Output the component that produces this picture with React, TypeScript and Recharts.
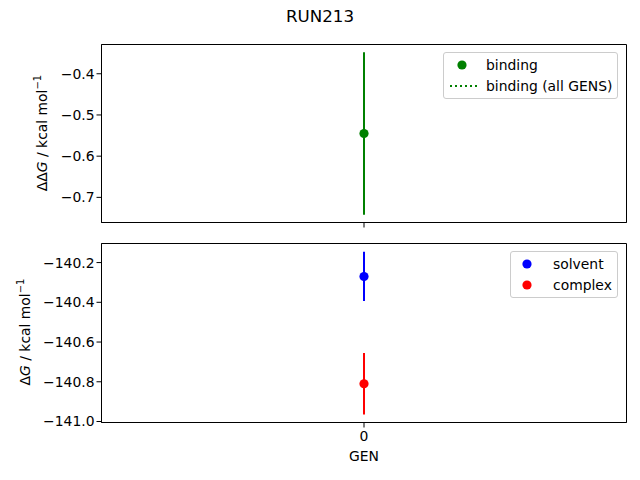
import React from "react"
import { ScatterChart, Scatter, XAxis, YAxis, ErrorBar, ReferenceArea } from "recharts"

const gens = [0]
const bindingValues = [-0.545]
const bindingErrors = [0.197]
const solventValues = [-140.27]
const solventErrors = [0.124]
const complexValues = [-140.81]
const complexErrors = [0.155]

const topTicks = [-0.7, -0.6, -0.5, -0.4]
const bottomTicks = [-141.0, -140.8, -140.6, -140.4, -140.2]
const topDomain = [-0.761, -0.329]
const bottomDomain = [-141.005, -140.104]
const xDomain = [-1, 1]

const font = "DejaVu Sans, sans-serif"
const fs = 13.9

const toRows = (vals: number[], errs: number[]) =>
  gens.map((g, i) => ({ x: g, y: vals[i], err: errs[i] }))

const fmt = (d: number) => (v: number) => (v < 0 ? "\u2212" : "") + Math.abs(v).toFixed(d)

const dot = (color: string) => (props: any) => (
  <circle cx={props.cx} cy={props.cy} r={4.6} fill={color} />
)

function YLabel({ x, y, prefix }: { x: number; y: number; prefix: string }) {
  return (
    <text
      x={x}
      y={y}
      transform={`rotate(-90, ${x}, ${y})`}
      textAnchor="middle"
      dominantBaseline="central"
      fontFamily={font}
      fontSize={fs}
      fill="#000"
    >
      {prefix}
      <tspan fontStyle="italic">G</tspan> / kcal mol
      <tspan dy={-5} fontSize={10}>{"\u22121"}</tspan>
    </text>
  )
}

function LegendBox({ left, top, width, items }: { left: number; top: number; width: number; items: { label: string; color: string; kind: string }[] }) {
  return (
    <div
      style={{
        position: "absolute",
        left,
        top,
        width,
        border: "1px solid #cccccc",
        borderRadius: 3,
        background: "rgba(255,255,255,0.8)",
        padding: "2px 0",
        fontFamily: font,
        fontSize: fs,
        boxSizing: "border-box",
      }}
    >
      {items.map((it) => (
        <div key={it.label} style={{ display: "flex", alignItems: "center", height: 20.5 }}>
          <svg width={40} height={14} style={{ flex: "none" }}>
            {it.kind === "dot" ? (
              <circle cx={it.label === "binding" ? 18 : 16} cy={7} r={4.6} fill={it.color} />
            ) : (
              <line x1={6} x2={34} y1={7} y2={7} stroke={it.color} strokeWidth={2} strokeDasharray="2 3" />
            )}
          </svg>
          <span style={{ marginLeft: 2 }}>{it.label}</span>
        </div>
      ))}
    </div>
  )
}

export default function App() {
  const binding = toRows(bindingValues, bindingErrors)
  const solvent = toRows(solventValues, solventErrors)
  const complex = toRows(complexValues, complexErrors)
  const tickStyle = { fontFamily: font, fontSize: fs, fill: "#000" }

  return (
    <div style={{ position: "absolute", left: 0, top: 0, width: 640, height: 480, background: "#fff" }}>
      <div style={{ position: "absolute", top: 6, width: 640, textAlign: "center", fontFamily: font, fontSize: 16.7 }}>
        RUN213
      </div>

      <div style={{ position: "absolute", left: 0, top: 0 }}>
        <ScatterChart width={640} height={240} margin={{ top: 44.5, right: 13.5, bottom: 0, left: 41.5 }}>
          <XAxis
            type="number"
            dataKey="x"
            domain={xDomain}
            ticks={[0]}
            tickFormatter={() => ""}
            height={17.5}
            stroke="#000"
            tickSize={5}
          />
          <YAxis
            type="number"
            dataKey="y"
            domain={topDomain}
            ticks={topTicks}
            tickFormatter={fmt(1)}
            allowDataOverflow
            width={60}
            stroke="#000"
            tickSize={5}
            tick={tickStyle}
            label={{ content: () => <YLabel x={42} y={133} prefix={"\u0394\u0394"} /> }}
          />
          <ReferenceArea
            x1={xDomain[0]}
            x2={xDomain[1]}
            y1={topDomain[0]}
            y2={topDomain[1]}
            stroke="#000"
            strokeOpacity={1}
            fill="none"
            ifOverflow="visible"
          />
          <Scatter data={binding} shape={dot("#008000")} isAnimationActive={false}>
            <ErrorBar dataKey="err" direction="y" width={0} stroke="#008000" strokeWidth={2} />
          </Scatter>
        </ScatterChart>
      </div>

      <div style={{ position: "absolute", left: 0, top: 240 }}>
        <ScatterChart width={640} height={240} margin={{ top: 3.5, right: 13.5, bottom: 0, left: 41.5 }}>
          <XAxis
            type="number"
            dataKey="x"
            domain={xDomain}
            ticks={[0]}
            height={57.5}
            stroke="#000"
            tickSize={5}
            tickMargin={4}
            tick={tickStyle}
            label={{ value: "GEN", position: "insideBottom", offset: 19, style: { fontFamily: font, fontSize: fs, fill: "#000" } }}
          />
          <YAxis
            type="number"
            dataKey="y"
            domain={bottomDomain}
            ticks={bottomTicks}
            tickFormatter={fmt(1)}
            allowDataOverflow
            width={60}
            stroke="#000"
            tickSize={5}
            tick={tickStyle}
            label={{ content: () => <YLabel x={25} y={92} prefix={"\u0394"} /> }}
          />
          <ReferenceArea
            x1={xDomain[0]}
            x2={xDomain[1]}
            y1={bottomDomain[0]}
            y2={bottomDomain[1]}
            stroke="#000"
            strokeOpacity={1}
            fill="none"
            ifOverflow="visible"
          />
          <Scatter data={solvent} shape={dot("#0000ff")} isAnimationActive={false}>
            <ErrorBar dataKey="err" direction="y" width={0} stroke="#0000ff" strokeWidth={2} />
          </Scatter>
          <Scatter data={complex} shape={dot("#ff0000")} isAnimationActive={false}>
            <ErrorBar dataKey="err" direction="y" width={0} stroke="#ff0000" strokeWidth={2} />
          </Scatter>
        </ScatterChart>
      </div>

      <LegendBox
        left={443}
        top={52}
        width={175}
        items={[
          { label: "binding", color: "#008000", kind: "dot" },
          { label: "binding (all GENS)", color: "#008000", kind: "line" },
        ]}
      />
      <LegendBox
        left={510}
        top={251}
        width={108}
        items={[
          { label: "solvent", color: "#0000ff", kind: "dot" },
          { label: "complex", color: "#ff0000", kind: "dot" },
        ]}
      />
    </div>
  )
}
